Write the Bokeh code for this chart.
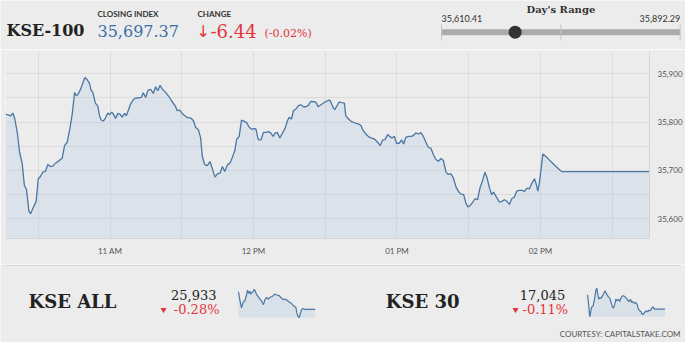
from bokeh.plotting import figure
from bokeh.models import Range1d, FixedTicker, NumeralTickFormatter
from bokeh.layouts import column
from bokeh.core.properties import value
from bokeh.embed import file_html
from bokeh.resources import INLINE

# ---------------- data ----------------
index_name = "KSE-100"
closing_index = 35697.37
change = -6.44
change_pct = -0.02
day_low = 35610.41
day_high = 35892.29

# KSE-100 intraday: minutes since midnight and index level
kse100_minutes = [
    616.3, 617.7, 618.4, 619.4, 620.2, 621.2, 622.2, 623.3, 624.2, 625.1, 626.1, 626.8, 627.7, 629.1,
    630.0, 630.9, 631.9, 633.0, 634.0, 635.1, 636.1, 637.2, 638.6, 640.0, 641.0, 642.1, 643.2, 644.2,
    645.2, 645.9, 646.7, 647.7, 648.7, 649.5, 650.5, 651.4, 652.1, 652.8, 653.9, 654.9, 655.6, 656.3,
    657.2, 658.1, 659.1, 659.8, 660.7, 661.4, 662.3, 663.3, 664.1, 665.1, 666.1, 666.8, 667.6, 668.6,
    669.7, 670.7, 672.1, 673.1, 673.9, 674.9, 675.9, 677.0, 678.1, 679.1, 680.0, 680.9, 681.9, 683.3,
    684.7, 686.0, 687.4, 688.1, 689.1, 690.2, 691.3, 692.3, 693.8, 694.9, 695.8, 697.0, 697.9, 698.6,
    699.6, 700.7, 701.8, 702.8, 703.9, 704.9, 706.0, 707.0, 708.0, 709.1, 710.2, 711.2, 712.2, 713.0,
    714.0, 715.0, 716.1, 717.2, 718.2, 719.3, 720.3, 721.0, 722.0, 723.1, 724.2, 725.2, 726.3, 727.2,
    728.2, 729.1, 730.0, 731.0, 732.1, 733.2, 734.2, 734.9, 735.9, 736.7, 737.7, 738.8, 739.8, 740.9,
    741.9, 742.9, 744.0, 745.1, 746.1, 747.0, 748.2, 749.6, 751.0, 751.9, 752.6, 753.3, 754.0, 754.9,
    755.8, 757.0, 758.0, 758.6, 759.7, 761.1, 762.5, 763.9, 764.9, 765.9, 767.0, 768.1, 769.1, 770.1,
    770.9, 771.9, 773.0, 774.0, 775.0, 776.1, 777.1, 777.9, 778.9, 779.8, 781.0, 781.9, 782.8, 783.7,
    784.9, 786.1, 787.2, 787.9, 788.9, 790.0, 791.0, 792.1, 793.1, 794.2, 795.2, 796.3, 797.3, 798.4,
    799.4, 800.5, 801.5, 802.6, 803.6, 804.7, 805.7, 806.8, 807.9, 808.9, 809.8, 810.7, 811.7, 812.6,
    813.7, 814.7, 815.8, 816.8, 817.6, 818.6, 819.6, 820.4, 821.4, 822.8, 823.9, 824.9, 825.9, 827.0,
    828.0, 829.1, 830.1, 831.2, 832.3, 833.3, 834.4, 835.4, 836.3, 837.5, 838.2, 838.9, 839.6, 841.0,
    842.3, 843.7, 845.1, 846.5, 847.9, 848.9, 885.6,
]
kse100_values = [
    35816.6, 35814.5, 35812.5, 35818.6, 35806.3, 35778.8, 35737.5, 35713.5, 35668.8, 35659.9, 35615.2, 35610.4, 35620.7, 35635.8,
    35682.6, 35687.4, 35696.3, 35697.7, 35712.1, 35708.0, 35708.7, 35714.9, 35719.7, 35725.2, 35751.3, 35758.2, 35785.7, 35816.6,
    35861.3, 35854.4, 35857.8, 35868.1, 35881.9, 35892.3, 35887.4, 35880.5, 35866.1, 35861.3, 35839.3, 35833.1, 35813.1, 35804.2,
    35802.1, 35808.3, 35818.6, 35815.2, 35820.7, 35816.6, 35807.6, 35817.9, 35816.6, 35810.4, 35817.9, 35813.1, 35823.4, 35837.2,
    35846.1, 35849.6, 35850.3, 35850.9, 35860.6, 35850.9, 35866.1, 35867.4, 35859.2, 35872.9, 35864.7, 35875.7, 35868.1, 35861.3,
    35852.3, 35842.0, 35832.4, 35823.4, 35824.8, 35817.9, 35813.1, 35809.7, 35808.3, 35802.8, 35789.1, 35783.6, 35767.1, 35728.6,
    35712.1, 35710.0, 35718.3, 35703.2, 35686.0, 35692.9, 35694.2, 35708.0, 35697.7, 35711.4, 35715.5, 35727.2, 35741.0, 35765.0,
    35769.8, 35804.2, 35801.5, 35798.7, 35789.1, 35785.0, 35786.3, 35785.7, 35763.7, 35763.0, 35778.8, 35778.8, 35780.2, 35777.4,
    35770.5, 35777.4, 35778.1, 35767.1, 35776.7, 35787.0, 35802.8, 35809.7, 35806.3, 35823.4, 35826.9, 35833.8, 35835.8, 35831.7,
    35831.7, 35834.5, 35842.7, 35842.0, 35841.3, 35831.7, 35835.8, 35840.6, 35844.1, 35845.4, 35838.6, 35830.3, 35825.5, 35833.8,
    35841.3, 35840.0, 35839.3, 35813.1, 35806.3, 35800.8, 35798.0, 35796.0, 35793.2, 35782.2, 35775.3, 35769.8, 35767.1, 35765.7,
    35763.7, 35758.2, 35751.3, 35763.0, 35763.7, 35774.0, 35769.8, 35767.1, 35770.5, 35756.1, 35756.1, 35763.0, 35754.7, 35768.5,
    35770.5, 35770.5, 35773.3, 35777.4, 35775.3, 35778.1, 35770.5, 35758.2, 35747.8, 35745.8, 35732.7, 35722.4, 35719.0, 35724.5,
    35720.4, 35696.3, 35691.5, 35692.9, 35683.9, 35665.4, 35656.4, 35650.9, 35649.6, 35631.0, 35624.1, 35627.6, 35634.5, 35641.3,
    35639.3, 35663.3, 35679.1, 35696.3, 35686.0, 35665.4, 35649.6, 35655.1, 35646.1, 35634.5, 35635.8, 35639.3, 35636.5, 35629.6,
    35641.3, 35644.8, 35657.1, 35658.5, 35658.5, 35656.4, 35663.3, 35661.9, 35672.2, 35682.6, 35672.2, 35657.1, 35675.7, 35734.1,
    35728.6, 35721.7, 35714.9, 35708.0, 35701.8, 35697.37, 35697.37,
]

hour_ticks = [660, 720, 780, 840]
hour_labels = ["11 AM", "12 PM", "01 PM", "02 PM"]
half_hour_ticks = [630, 690, 750, 810, 870]
price_ticks = [35600, 35700, 35800, 35900]
price_half_ticks = [35550, 35650, 35750, 35850, 35950]
price_axis_low = 35559
price_axis_high = 35946

# KSE ALL sparkline
kseall_name = "KSE ALL"
kseall_last = 25933
kseall_pct = -0.28
kseall_minutes = [
    616.3, 621.0, 626.8, 632.7, 638.5, 644.4, 647.9, 651.4, 656.1, 659.6, 663.1, 667.8, 671.3, 674.8,
    679.5, 685.4, 691.2, 698.2, 704.1, 708.8, 714.6, 720.5, 726.3, 733.3, 738.0, 743.9, 750.9, 759.1,
    764.9, 770.8, 776.6, 782.5, 788.4, 794.2, 800.1, 805.9, 811.8, 817.6, 821.1, 825.8, 829.3, 832.8,
    837.5, 843.4, 850.4, 864.4, 885.6,
]
kseall_values = [
    26065, 26005, 25945, 25988, 25998, 26041, 26077, 26053, 26070, 26046, 26060, 26065, 26084, 26070,
    26046, 26029, 26012, 25993, 25969, 26005, 26022, 26010, 26022, 26029, 26036, 26048, 26041, 26036,
    26022, 26012, 26005, 26010, 25998, 25988, 25981, 25969, 25957, 25950, 25909, 25878, 25873, 25897,
    25931, 25940, 25933, 25933, 25933,
]

# KSE 30 sparkline
kse30_name = "KSE 30"
kse30_last = 17045
kse30_pct = -0.11
kse30_minutes = [
    616.3, 619.8, 624.4, 630.2, 635.9, 641.7, 645.2, 648.7, 652.1, 655.6, 659.1, 663.7, 668.3, 671.8,
    676.4, 679.9, 684.5, 689.1, 693.7, 698.4, 703.0, 706.5, 711.1, 714.5, 719.2, 723.8, 728.4, 733.0,
    737.7, 742.3, 746.9, 751.5, 756.2, 760.8, 765.4, 770.0, 774.6, 779.3, 783.9, 788.5, 793.1, 797.8,
    802.4, 807.0, 811.6, 816.3, 820.9, 825.5, 830.1, 834.7, 839.4, 844.0, 848.6, 855.6, 885.6,
]
kse30_values = [
    17114, 17077, 17008, 17053, 17061, 17101, 17136, 17146, 17117, 17093, 17101, 17098, 17109, 17117,
    17133, 17125, 17114, 17104, 17098, 17077, 17056, 17050, 17069, 17093, 17085, 17093, 17082, 17101,
    17109, 17109, 17104, 17098, 17088, 17082, 17093, 17077, 17082, 17072, 17077, 17069, 17045, 17037,
    17032, 17018, 17024, 17031, 17037, 17032, 17040, 17037, 17050, 17056, 17045, 17045, 17045,
]

# ---------------- style ----------------
W = 685
BG = "#ececec"
GRID = "#dcdcdc"
LINE = "#4a77a4"
FILL = "#a8c2de"
RED = "#e3343a"
BLUE = "#3b6fa8"
SERIF = value("DejaVu Serif")
SANS = value("Lato")


def blank(height):
    f = figure(width=W, height=height, x_range=Range1d(0, W), y_range=Range1d(height, 0),
               x_axis_location=None, y_axis_location=None, output_backend="svg",
               toolbar_location=None, min_border=0, background_fill_color=BG,
               border_fill_color=BG, outline_line_color=None, frame_align=False)
    f.grid.visible = False
    return f


# ---------------- header ----------------
hdr = blank(49)
hdr.text(x=[6], y=[29.5], text=[index_name], text_font=SERIF, text_font_style="bold",
         text_font_size="16px", text_color="#222222", text_baseline="middle")
hdr.text(x=[97, 197], y=[13.2, 13.2], text=["CLOSING INDEX", "CHANGE"], text_font=SANS,
         text_font_style="bold", text_font_size="8px", text_color="#333333", text_baseline="middle")
hdr.text(x=[97], y=[30.5], text=[f"{closing_index:,.2f}"], text_font=SERIF,
         text_font_size="16px", text_color=BLUE, text_baseline="middle")
hdr.text(x=[196], y=[31], text=["\u2193"], text_font=value("DejaVu Sans"),
         text_font_size="16px", text_color=RED, text_baseline="middle")
hdr.text(x=[210], y=[30.5], text=[f"{change:.2f}"], text_font=SERIF,
         text_font_size="18px", text_color=RED, text_baseline="middle")
hdr.text(x=[264], y=[33], text=[f"({change_pct:.2f}%)"], text_font=SERIF,
         text_font_size="11px", text_color=RED, text_baseline="middle")

bar_x0, bar_x1 = 441, 679.7
hdr.text(x=[(bar_x0 + bar_x1) / 2], y=[9], text=["Day's Range"], text_font=SERIF,
         text_font_style="bold", text_font_size="10px", text_color="#333333",
         text_align="center", text_baseline="middle")
hdr.text(x=[bar_x0], y=[17.5], text=[f"{day_low:,.2f}"], text_font=SANS,
         text_font_size="9px", text_color="#333333", text_baseline="middle")
hdr.text(x=[bar_x1], y=[17.5], text=[f"{day_high:,.2f}"], text_font=SANS,
         text_font_size="9px", text_color="#333333", text_align="right", text_baseline="middle")
rng = hdr.subplot(x_source=Range1d(day_low, day_high), y_source=Range1d(0, 49),
                  x_target=Range1d(bar_x0, bar_x1), y_target=Range1d(0, 49))
rng.segment(x0=[day_low], y0=[31.7], x1=[day_high], y1=[31.7], line_width=6, line_color="#ababab")
mid = (day_low + day_high) / 2
rng.segment(x0=[day_low, mid, day_high], y0=[24] * 3, x1=[day_low, mid, day_high], y1=[40] * 3,
            line_width=1, line_color="#c6c6c6")
rng.scatter(x=[closing_index], y=[31.7], size=13, fill_color="#333333", line_color=None)

# ---------------- main chart ----------------
main = figure(width=W, height=215,
              x_range=Range1d(kse100_minutes[0], kse100_minutes[-1]),
              y_range=Range1d(price_axis_low, price_axis_high),
              y_axis_location="right", output_backend="svg", toolbar_location=None,
              min_border_left=5, min_border_right=36, min_border_top=2, min_border_bottom=26,
              background_fill_color=BG, border_fill_color=BG, outline_line_color=None,
              frame_align=False)
xt = FixedTicker(ticks=hour_ticks, minor_ticks=half_hour_ticks)
yt = FixedTicker(ticks=price_ticks, minor_ticks=price_half_ticks)
main.xaxis.ticker = xt
main.xgrid.ticker = xt
main.yaxis.ticker = yt
main.ygrid.ticker = yt
main.xaxis.major_label_overrides = dict(zip(hour_ticks, hour_labels))
main.yaxis.formatter = NumeralTickFormatter(format="0,0")
for g in (main.xgrid, main.ygrid):
    g.grid_line_color = GRID
    g.minor_grid_line_color = GRID
for ax in (main.xaxis, main.yaxis):
    ax.axis_line_color = "#d4d4d4"
    ax.major_tick_line_color = None
    ax.minor_tick_line_color = None
    ax.major_tick_out = 0
    ax.major_tick_in = 0
    ax.minor_tick_out = 0
    ax.minor_tick_in = 0
    ax.major_label_text_font = "Lato"
    ax.major_label_text_font_size = "8px"
    ax.major_label_text_color = "#555555"
main.xaxis.major_label_standoff = 7
main.yaxis.major_label_standoff = 8
main.varea(x=kse100_minutes, y1=price_axis_low, y2=kse100_values, fill_color=FILL, fill_alpha=0.25)
main.line(x=kse100_minutes, y=kse100_values, line_color=LINE, line_width=1.3)

# ---------------- bottom ----------------
bot = blank(78)
bot.segment(x0=[5], y0=[1], x1=[680], y1=[1], line_color="#d6d6d6", line_width=1)


def ticker_block(name, name_x, last, pct, num_right, tri_x, minutes, vals, spark_x, spark_y):
    bot.text(x=[name_x], y=[37], text=[name], text_font=SERIF, text_font_style="bold",
             text_font_size="18px", text_color="#222222", text_baseline="middle")
    bot.text(x=[num_right], y=[30], text=[f"{last:,}"], text_font=SERIF, text_font_size="13px",
             text_color="#222222", text_align="right", text_baseline="middle")
    bot.text(x=[num_right + 3], y=[44.7], text=[f"{pct:.2f}%"], text_font=SERIF,
             text_font_size="13px", text_color=RED, text_align="right", text_baseline="middle")
    bot.scatter(x=[tri_x], y=[45.3], marker="inverted_triangle", size=6, fill_color=RED, line_color=None)
    lo, hi = min(vals), max(vals)
    sp = bot.subplot(x_source=Range1d(minutes[0], minutes[-1]), y_source=Range1d(lo, hi),
                     x_target=Range1d(*spark_x), y_target=Range1d(*spark_y))
    sp.varea(x=minutes, y1=lo, y2=vals, fill_color=FILL, fill_alpha=0.3)
    sp.line(x=minutes, y=vals, line_color=LINE, line_width=1.2)


ticker_block(kseall_name, 28, kseall_last, kseall_pct, 216, 163, kseall_minutes, kseall_values,
             (238, 314.7), (53, 24.7))
ticker_block(kse30_name, 385.3, kse30_last, kse30_pct, 564.7, 515, kse30_minutes, kse30_values,
             (587, 664.5), (52.3, 23.7))

bot.text(x=[680], y=[69.7], text=["COURTESY: CAPITALSTAKE.COM"], text_font=SANS,
         text_font_size="8px", text_color="#555555", text_align="right", text_baseline="middle")

layout = column(hdr, main, bot, spacing=0)
open("out.html", "w").write(file_html(layout, INLINE))
